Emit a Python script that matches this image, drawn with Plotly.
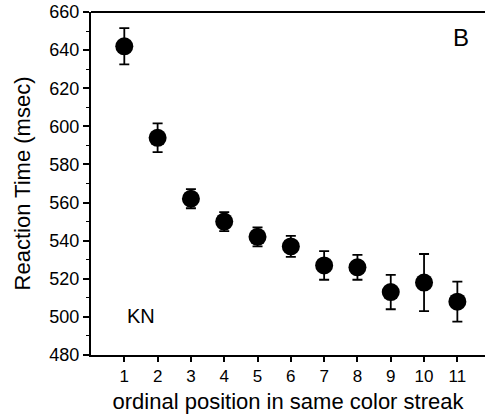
import plotly.graph_objects as go

positions = [1, 2, 3, 4, 5, 6, 7, 8, 9, 10, 11]
rt_mean = [642, 594, 562, 550, 542, 537, 527, 526, 513, 518, 508]
rt_err = [9.5, 7.5, 5, 5, 5, 5.5, 7.5, 6.5, 9, 15, 10.5]
y_ticks = [480, 500, 520, 540, 560, 580, 600, 620, 640, 660]

FONT = "Liberation Sans, Arial, sans-serif"

fig = go.Figure()
fig.add_trace(go.Scatter(
    x=positions, y=rt_mean, mode="markers",
    marker=dict(size=18, color="black"),
    error_y=dict(type="data", array=rt_err, visible=True,
                 color="black", thickness=1.8, width=5),
    showlegend=False,
))

fig.update_layout(
    width=485, height=420,
    margin=dict(l=91, r=0, t=12, b=65),
    paper_bgcolor="white", plot_bgcolor="white",
    font=dict(family=FONT, color="black", size=17),
)
fig.update_xaxes(
    range=[0, 11.83], tickvals=positions, ticks="outside", ticklen=5,
    tickwidth=1.5, tickcolor="black", showline=True, linecolor="black",
    linewidth=2, mirror=False, showgrid=False, zeroline=False,
    tickfont=dict(size=17), automargin=False,
    title=dict(text="ordinal position in same color streak",
               font=dict(size=22), standoff=8),
)
fig.update_yaxes(
    range=[480, 660], tickvals=y_ticks, ticks="outside", ticklen=6,
    tickwidth=1.5, tickcolor="black", showline=True, linecolor="black",
    linewidth=2, mirror=False, showgrid=False, zeroline=False,
    tickfont=dict(size=18), automargin=False,
    minor=dict(dtick=10, ticks="outside", ticklen=3, tickwidth=1.2,
               tickcolor="black", showgrid=False),
    title=dict(text="Reaction Time (msec)", font=dict(size=22), standoff=13),
)
# top frame line
fig.add_shape(type="line", xref="paper", yref="paper", x0=0, x1=1, y0=1, y1=1,
              line=dict(color="black", width=2))
fig.add_annotation(x=0.939, y=0.927, xref="paper", yref="paper",
                   text="B", showarrow=False, font=dict(size=24, family=FONT),
                   xanchor="center", yanchor="middle")
fig.add_annotation(x=0.126, y=0.115, xref="paper", yref="paper",
                   text="KN", showarrow=False, font=dict(size=20, family=FONT),
                   xanchor="center", yanchor="middle")

fig.write_html("out.html")
